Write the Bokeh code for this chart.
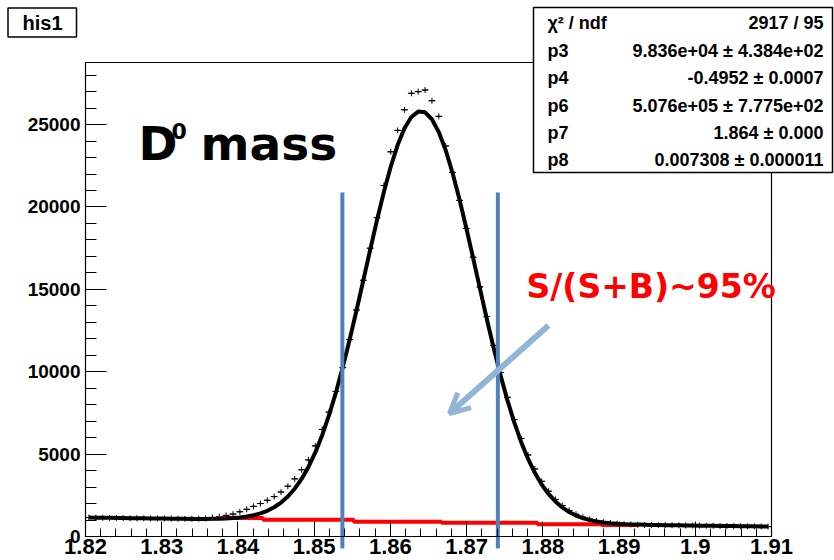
import numpy as np
from bokeh.plotting import figure
from bokeh.models import (FixedTicker, Label, BoxAnnotation, Arrow, OpenHead, Range1d)
from bokeh.embed import file_html
from bokeh.resources import INLINE

# ---------------- data ----------------
X_RANGE = (1.82, 1.91)
Y_RANGE = (0, 28770)

COUNTS = [
    1150, 1140, 1135, 1130, 1125, 1120, 1110, 1110, 1100, 1100,
    1090, 1085, 1085, 1080, 1075, 1080, 1080, 1095, 1150, 1200,
    1280, 1360, 1500, 1650, 1830, 2000, 2200, 2420, 2700, 3050,
    3500, 4050, 4650, 5500, 6500, 7550, 8800, 10250, 11950, 13750,
    15550, 17500, 19350, 21300, 23350, 24650, 25900, 26900, 27000, 27100,
    26450, 25500, 23700, 22100, 20400, 18700, 16950, 15150, 13350, 11600,
    9950, 8450, 7100, 5950, 4950, 4100, 3350, 2750, 2250, 1880,
    1580, 1350, 1170, 1040, 940, 870, 820, 780, 750, 735,
    715, 705, 700, 690, 690, 680, 675, 670, 665, 660,
    655, 650, 640, 640, 630, 625, 620, 615, 610, 600,
]

FIT_VALUES = [
    1147, 1142, 1136, 1131, 1125, 1120, 1114, 1109, 1103, 1098,
    1092, 1087, 1082, 1076, 1072, 1067, 1065, 1068, 1071, 1079,
    1092, 1116, 1153, 1209, 1290, 1404, 1562, 1776, 2061, 2429,
    2901, 3495, 4224, 5105, 6148, 7362, 8735, 10270, 11939, 13713,
    15551, 17405, 19216, 20921, 22454, 23758, 24775, 25465, 25792, 25744,
    25324, 24547, 23450, 22080, 20492, 18745, 16912, 15046, 13205, 11441,
    9790, 8278, 6927, 5741, 4724, 3867, 3157, 2582, 2123, 1763,
    1486, 1273, 1116, 999, 914, 851, 807, 774, 751, 733,
    721, 711, 702, 695, 688, 682, 676, 670, 664, 659,
    653, 648, 642, 637, 631, 626, 620, 615, 609, 604,
]

BKG_EDGES = [1.8373, 1.8433, 1.8552, 1.8667, 1.8793, 1.8877, 1.8926]
BKG_VALUES = [1120, 1020, 900, 840, 750, 700]

CUTS = [1.8537, 1.8741]

X_TICKS = [1.82, 1.83, 1.84, 1.85, 1.86, 1.87, 1.88, 1.89, 1.9, 1.91]
X_TICK_LABELS = ["1.82", "1.83", "1.84", "1.85", "1.86", "1.87", "1.88", "1.89", "1.9", "1.91"]
Y_TICKS = [0, 5000, 10000, 15000, 20000, 25000]
Y_TICK_LABELS = ["0", "5000", "10000", "15000", "20000", "25000"]

STAT_NAMES = ["\u03c7\u00b2 / ndf", "p3", "p4", "p6", "p7", "p8"]
STAT_VALUES = ["2917 / 95", "9.836e+04 \u00b1 4.384e+02", "-0.4952 \u00b1 0.0007",
               "5.076e+05 \u00b1 7.775e+02", "1.864 \u00b1 0.000", "0.007308 \u00b1 0.000011"]

HIST_NAME = "his1"
TITLE_MAIN = "D"
TITLE_SUP = "0"
TITLE_REST = "mass"
PURITY = "S/(S+B)~95%"

# ---------------- layout (canvas pixels of the ROOT frame) ----------------
W, H = 834, 560
FL, FR, FT, FB = 85, 771, 62, 536


def dx(px):
    return X_RANGE[0] + (px - FL) / (FR - FL) * (X_RANGE[1] - X_RANGE[0])


def dy(py):
    return Y_RANGE[0] + (FB - py) / (FB - FT) * (Y_RANGE[1] - Y_RANGE[0])


# the Bokeh frame covers the whole canvas; the axes are pinned at the ROOT frame edges
p = figure(width=W, height=H, x_range=Range1d(dx(0), dx(W)), y_range=Range1d(dy(H), dy(0)),
           output_backend="svg", toolbar_location=None,
           min_border_left=0, min_border_right=0, min_border_top=0, min_border_bottom=0)
p.xgrid.visible = False
p.ygrid.visible = False
p.outline_line_color = None
p.background_fill_color = "white"
p.border_fill_color = "white"

nb = len(COUNTS)
bw = (X_RANGE[1] - X_RANGE[0]) / nb
minor_x = [X_RANGE[0] + 0.002 * k for k in range(46)]
minor_y = [1000 * k for k in range(29)]

# ROOT frame box
p.quad(left=[X_RANGE[0]], right=[X_RANGE[1]], bottom=[Y_RANGE[0]], top=[Y_RANGE[1]],
       fill_color=None, line_color="black", line_width=1.2)

xa = p.xaxis[0]
xa.fixed_location = Y_RANGE[0]
xa.bounds = X_RANGE
xa.ticker = FixedTicker(ticks=X_TICKS, minor_ticks=minor_x)
xa.major_label_overrides = dict(zip(X_TICKS, X_TICK_LABELS))
xa.major_tick_in = 15
xa.major_tick_out = 0
xa.minor_tick_in = 8
xa.minor_tick_out = 0
xa.major_label_standoff = 2
xa.major_label_text_font = "Liberation Sans"
xa.major_label_text_font_style = "bold"
xa.major_label_text_font_size = "22px"
xa.major_label_text_color = "black"
xa.axis_line_color = "black"
xa.major_tick_line_color = "black"
xa.minor_tick_line_color = "black"

ya = p.yaxis[0]
ya.fixed_location = X_RANGE[0]
ya.bounds = Y_RANGE
ya.ticker = FixedTicker(ticks=Y_TICKS, minor_ticks=minor_y)
ya.major_label_overrides = dict(zip(Y_TICKS, Y_TICK_LABELS))
ya.major_tick_in = 21
ya.major_tick_out = 0
ya.minor_tick_in = 11
ya.minor_tick_out = 0
ya.major_label_standoff = 5
ya.major_label_text_font = "Liberation Sans"
ya.major_label_text_font_style = "bold"
ya.major_label_text_font_size = "19px"
ya.major_label_text_color = "black"
ya.axis_line_color = "black"
ya.major_tick_line_color = "black"
ya.minor_tick_line_color = "black"

centers = X_RANGE[0] + (np.arange(nb) + 0.5) * bw
counts = np.array(COUNTS, dtype=float)

# data points (ROOT style crosses)
p.segment(x0=centers - bw / 2, x1=centers + bw / 2, y0=counts, y1=counts,
          line_color="black", line_width=1)
p.scatter(centers, counts, marker="cross", size=6, line_color="black", line_width=1)

# background (red)
p.step(x=BKG_EDGES, y=BKG_VALUES + [BKG_VALUES[-1]], mode="after",
       line_color="red", line_width=4)

# fit (black)
p.line(centers, FIT_VALUES, line_color="black", line_width=4, line_join="round")

# cut lines
p.segment(x0=CUTS, x1=CUTS, y0=[dy(192)] * len(CUTS), y1=[dy(548)] * len(CUTS),
          line_color="#4f81bd", line_width=4)

# arrow
p.add_layout(Arrow(end=OpenHead(size=20, line_width=5, line_color="#91b5d6"),
                   x_start=dx(548), y_start=dy(325), x_end=dx(449), y_end=dy(413),
                   line_color="#91b5d6", line_width=6))

# texts
big = dict(text_font="DejaVu Sans", text_font_style="bold", text_color="black",
           text_baseline="middle", text_align="left")
p.add_layout(Label(x=dx(138), y=dy(143), text=TITLE_MAIN, text_font_size="47px", **big))
p.add_layout(Label(x=dx(171), y=dy(130), text=TITLE_SUP, text_font_size="22px", **big))
p.add_layout(Label(x=dx(200), y=dy(143), text=TITLE_REST, text_font_size="47px", **big))
p.add_layout(Label(x=dx(526), y=dy(286), text=PURITY, text_font="DejaVu Sans",
                   text_font_style="bold", text_color="red", text_font_size="33px",
                   text_baseline="middle", text_align="left"))

# his1 box
p.add_layout(BoxAnnotation(left=dx(7.5), right=dx(76), top=dy(7.5), bottom=dy(36.5),
                           fill_color="white", fill_alpha=1, line_color="black",
                           line_width=1.5, line_alpha=1))
p.add_layout(Label(x=dx(42), y=dy(22), text=HIST_NAME, text_font="Liberation Sans",
                   text_font_style="bold", text_font_size="20px", text_color="black",
                   text_align="center", text_baseline="middle"))

# stats box
p.add_layout(BoxAnnotation(left=dx(533), right=dx(832), top=dy(7), bottom=dy(172),
                           fill_color="white", fill_alpha=1, line_color="black",
                           line_width=1.5, line_alpha=1))
row_y = [22.7, 50, 77.3, 105, 132.3, 159.3]
for name, val, ry in zip(STAT_NAMES, STAT_VALUES, row_y):
    p.add_layout(Label(x=dx(547), y=dy(ry), text=name, text_font="Liberation Sans",
                       text_font_style="bold", text_font_size="18px", text_color="black",
                       text_align="left", text_baseline="middle"))
    p.add_layout(Label(x=dx(823), y=dy(ry), text=val, text_font="Liberation Sans",
                       text_font_style="bold", text_font_size="18px", text_color="black",
                       text_align="right", text_baseline="middle"))

open("out.html", "w").write(file_html(p, INLINE))
